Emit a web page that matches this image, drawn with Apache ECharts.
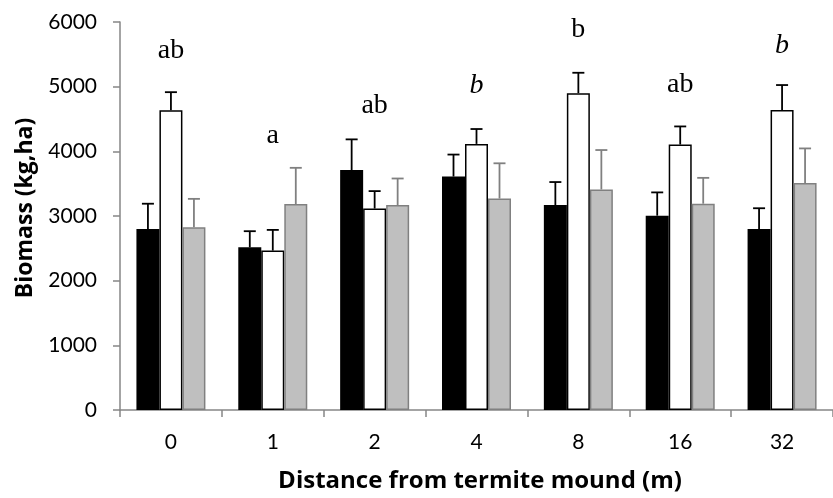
<!DOCTYPE html>
<html><head><meta charset="utf-8">
<script src="https://cdn.jsdelivr.net/npm/echarts@6/dist/echarts.min.js"></script>
<style>html,body{margin:0;padding:0;background:#fff}#c{width:833px;height:498px}</style>
</head><body><div id="c"></div>
<script>
const categories = ['0','1','2','4','8','16','32'];
const blackVals = [2800, 2515, 3710, 3610, 3170, 3005, 2800];
const blackErr  = [390, 250, 475, 340, 355, 360, 320];
const whiteVals = [4635, 2465, 3115, 4115, 4900, 4105, 4640];
const whiteErr  = [280, 320, 270, 230, 315, 280, 385];
const grayVals  = [2825, 3185, 3170, 3270, 3410, 3190, 3510];
const grayErr   = [440, 560, 410, 545, 610, 400, 535];
const letters   = ['ab','a','ab','b','b','ab','b'];
const letterItalic = [false,false,false,true,false,false,true];
const letterY   = [5550, 4250, 4700, 5010, 5880, 5030, 5640];
const yTicks = {min:0, max:6000, interval:1000};
const xTitle = 'Distance from termite mound (m)';
const yTitle = 'Biomass (kg,ha)';

const BW = 23;
function errSeries(vals, errs, offset, color){
  return {
    type:'custom', z:5,
    data: vals.map((v,i)=>[i, v, v+errs[i]]),
    renderItem:(params, api)=>{
      const p0 = api.coord([api.value(0), api.value(1)]);
      const p1 = api.coord([api.value(0), api.value(2)]);
      const x = p0[0] + offset;
      return {type:'group', children:[
        {type:'line', shape:{x1:x,y1:p0[1],x2:x,y2:p1[1]}, style:{stroke:color,lineWidth:1.8}},
        {type:'line', shape:{x1:x-6,y1:p1[1],x2:x+6,y2:p1[1]}, style:{stroke:color,lineWidth:1.8}}
      ]};
    }
  };
}
const chart = echarts.init(document.getElementById('c'));
chart.setOption({
  animation:false,
  grid:{left:120, top:22, width:723, height:388, containLabel:false},
  graphic:[
    {type:'text', x:480, y:481,
     style:{text:xTitle, fill:'#000', font:'bold 24px "Open Sans"', textAlign:'center', textVerticalAlign:'middle'}},
    {type:'text', x:25, y:208, rotation:Math.PI/2,
     style:{text:yTitle, fill:'#000', font:'bold 23px "Open Sans"', textAlign:'center', textVerticalAlign:'middle'}}
  ],
  xAxis:{
    type:'category', data:categories,
    axisLine:{lineStyle:{color:'#868686', width:1.5}},
    axisTick:{show:true, alignWithLabel:false, length:7, lineStyle:{color:'#868686', width:1.5}},
    axisLabel:{color:'#000', fontFamily:'Lato', fontSize:21, margin:22}
  },
  yAxis:{
    type:'value', min:yTicks.min, max:yTicks.max, interval:yTicks.interval,
    splitLine:{show:false},
    axisLine:{show:true, lineStyle:{color:'#868686', width:1.5}},
    axisTick:{show:true, length:7, lineStyle:{color:'#868686', width:1.5}},
    axisLabel:{color:'#000', fontFamily:'Lato', fontSize:21, margin:23, formatter:(v)=>String(v)}
  },
  series:[
    {type:'bar', data:blackVals, barWidth:BW, barGap:'0%', itemStyle:{color:'#000'}},
    {type:'bar', data:whiteVals, barWidth:BW, barGap:'0%', itemStyle:{color:'#fff', borderColor:'#000', borderWidth:1.5}},
    {type:'bar', data:grayVals, barWidth:BW, barGap:'0%', itemStyle:{color:'#bfbfbf', borderColor:'#808080', borderWidth:1.5}},
    errSeries(blackVals, blackErr, -BW, '#000'),
    errSeries(whiteVals, whiteErr, 0, '#000'),
    errSeries(grayVals, grayErr, BW, '#808080'),
    {type:'scatter', symbolSize:0, z:6, itemStyle:{opacity:1},
     data: letters.map((t,i)=>({value:[i, letterY[i]], name:t,
       label:{fontStyle: letterItalic[i] ? 'italic' : 'normal'}})),
     label:{show:true, position:'inside', formatter:(p)=>p.name, color:'#000', opacity:1,
       fontFamily:'Liberation Serif', fontSize:28}
    }
  ]
});
</script></body></html>
